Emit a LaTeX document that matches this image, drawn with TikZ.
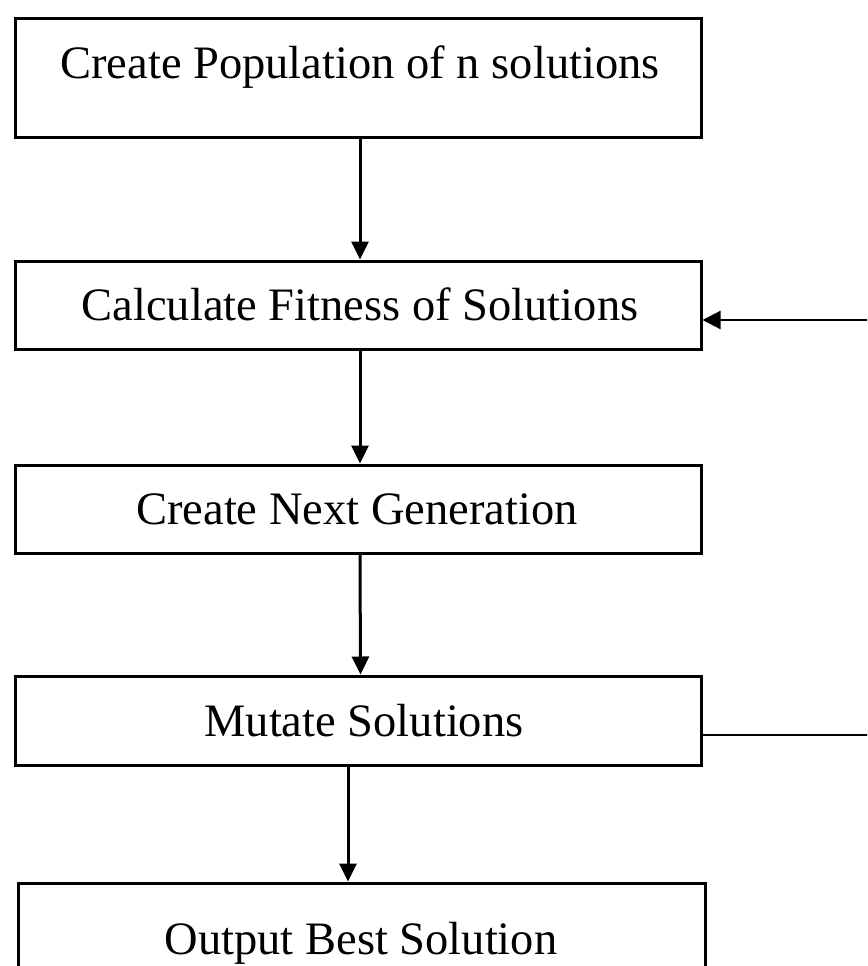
\documentclass[tikz,border=0pt]{standalone}
\usepackage{fontspec}
\setmainfont{Liberation Serif}
\usetikzlibrary{arrows.meta}
\begin{document}
\begin{tikzpicture}[x=1pt,y=-1pt,
  box/.style={draw=black,line width=3pt,rectangle,inner sep=0pt,minimum width=686pt},
  lbl/.style={inner sep=0pt,anchor=base,font=\fontsize{46.5}{50}\selectfont},
  arr/.style={draw=black,line width=3pt,-{Triangle[length=18pt,width=17pt]}},
  fb/.style={draw=black,line width=2.2pt}]
\clip (0,0) rectangle (867,966);
\fill[white] (0,0) rectangle (867,966);
\node[box,minimum height=118pt] (b1) at (358,78) {};
\node[lbl] (t1) at (360,78) {Create Population of n solutions};
\node[box,minimum height=88pt] (b2) at (358,305) {};
\node[lbl] (t2) at (360,320.5) {Calculate Fitness of Solutions};
\node[box,minimum height=88pt] (b3) at (358,509) {};
\node[lbl] (t3) at (357,524.5) {Create Next Generation};
\node[box,minimum height=89pt] (b4) at (358.5,720.5) {};
\node[lbl] (t4) at (364,736) {Mutate Solutions};
\node[box,minimum width=687pt,minimum height=200pt] (b5) at (361.5,983) {};
\node[lbl] (t5) at (361,954) {Output Best Solution};
\draw[arr] ([xshift=2pt]b1.south) -- ([xshift=2pt]b2.north);
\draw[arr] ([xshift=2pt]b2.south) -- ([xshift=2pt]b3.north);
\draw[arr] ([xshift=2pt]b3.south) -- ([xshift=2pt]b4.north);
\draw[arr] ([xshift=-10.5pt]b4.south) -- ([xshift=-13.5pt]b5.north);
\coordinate (r1) at (900,735);
\coordinate (r2) at (900,320);
\draw[fb,-{Triangle[length=18pt,width=18pt]}] (b4.east |- r1) -- (r1) -- (r2) -- (b2.east |- r2);
\end{tikzpicture}
\end{document}
